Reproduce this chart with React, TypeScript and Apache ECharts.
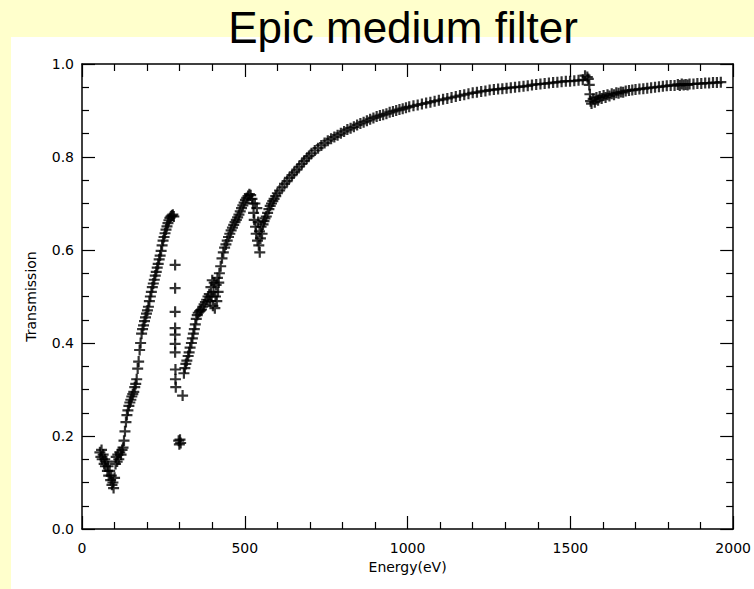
import { useEffect, useRef } from "react";
import * as echarts from "echarts";

// Axis ranges / ticks
const xMin = 0;
const xMax = 2000;
const xStep = 500;
const yMin = 0;
const yMax = 1.0;
const yStep = 0.2;

// Data: [Energy (eV), Transmission]
const lowCluster: [number, number][] = [
  [55, 0.165], [58, 0.155], [60, 0.17], [62, 0.15], [65, 0.16], [68, 0.14], [70, 0.15],
  [72, 0.135], [75, 0.145], [78, 0.125], [80, 0.135], [82, 0.115], [85, 0.125], [88, 0.105],
  [90, 0.115], [92, 0.095], [95, 0.1], [97, 0.088], [100, 0.11], [103, 0.14], [105, 0.155],
  [108, 0.145], [110, 0.16], [113, 0.15], [116, 0.165], [120, 0.16], [123, 0.17],
];

const carbonRise: [number, number][] = [
  [126, 0.175], [129, 0.19], [132, 0.21], [135, 0.23], [138, 0.245], [141, 0.255], [144, 0.265],
  [147, 0.272], [150, 0.278], [153, 0.285], [156, 0.29], [159, 0.295], [162, 0.305], [165, 0.312],
  [168, 0.322], [171, 0.345], [174, 0.36], [177, 0.385], [180, 0.4], [183, 0.42], [186, 0.43],
  [189, 0.438], [192, 0.447], [195, 0.455], [198, 0.463], [201, 0.47], [204, 0.478], [207, 0.49],
  [210, 0.5], [213, 0.51], [216, 0.52], [219, 0.528], [222, 0.536], [225, 0.545], [228, 0.553],
  [231, 0.562], [234, 0.57], [237, 0.58], [240, 0.588], [243, 0.598], [246, 0.61], [249, 0.62],
  [252, 0.628], [255, 0.636], [258, 0.644], [261, 0.651], [264, 0.658], [267, 0.664], [270, 0.669],
  [273, 0.672], [276, 0.674], [279, 0.676], [282, 0.672],
];

const carbonEdge: [number, number][] = [
  [286, 0.568], [286, 0.518], [286, 0.467], [286, 0.432], [286, 0.418], [286, 0.398], [286, 0.38],
  [287, 0.343], [287, 0.322], [288, 0.305], [309, 0.287],
  [297, 0.19], [299, 0.182], [301, 0.192], [303, 0.185],
];

const nitrogenOxygen: [number, number][] = [
  [313, 0.335], [316, 0.346], [319, 0.355], [322, 0.362], [326, 0.372], [329, 0.38], [332, 0.39],
  [336, 0.4], [339, 0.41], [342, 0.42], [345, 0.43], [348, 0.44], [351, 0.452], [354, 0.46],
  [357, 0.465], [361, 0.468], [364, 0.47], [367, 0.472], [371, 0.478], [375, 0.483], [379, 0.488],
  [383, 0.493], [387, 0.5], [391, 0.505],
  [394, 0.49], [396, 0.52], [398, 0.5], [400, 0.535], [402, 0.48], [404, 0.51], [406, 0.53],
  [408, 0.475], [410, 0.5], [412, 0.525], [414, 0.49], [416, 0.54], [418, 0.51], [420, 0.53],
  [422, 0.55], [426, 0.565], [430, 0.582], [434, 0.595], [438, 0.605], [442, 0.612], [446, 0.62],
  [450, 0.628], [454, 0.635], [458, 0.642], [462, 0.648], [466, 0.654], [470, 0.66], [474, 0.665],
  [478, 0.67], [482, 0.676], [486, 0.683], [490, 0.69], [494, 0.696], [498, 0.702], [502, 0.708],
  [506, 0.712], [510, 0.716], [514, 0.72], [518, 0.718], [522, 0.71],
  [525, 0.7], [527, 0.68], [529, 0.665], [531, 0.7], [533, 0.65], [535, 0.635], [537, 0.69],
  [539, 0.62], [541, 0.66], [543, 0.61], [545, 0.64], [546, 0.595], [548, 0.625], [550, 0.65],
  [553, 0.635], [556, 0.655], [559, 0.662], [562, 0.668], [566, 0.672], [570, 0.68], [574, 0.688],
  [578, 0.695], [582, 0.7], [586, 0.705], [590, 0.71], [595, 0.716], [600, 0.722], [607, 0.728],
  [615, 0.735], [622, 0.742], [630, 0.748], [637, 0.755], [645, 0.761], [652, 0.767], [660, 0.773],
  [667, 0.779], [675, 0.785], [682, 0.791], [690, 0.797], [697, 0.802],
];

const smoothRise: [number, number][] = [
  [705, 0.808], [715, 0.814], [725, 0.819], [735, 0.825], [745, 0.83], [755, 0.835], [765, 0.839],
  [775, 0.843], [785, 0.847], [795, 0.851], [805, 0.855], [815, 0.859], [825, 0.862], [835, 0.865],
  [845, 0.869], [855, 0.872], [865, 0.875], [875, 0.878], [885, 0.881], [895, 0.884], [905, 0.887],
  [915, 0.889], [925, 0.891], [935, 0.893], [945, 0.896], [955, 0.898], [965, 0.9], [975, 0.902],
  [985, 0.904], [995, 0.906], [1005, 0.908], [1018, 0.91], [1031, 0.912], [1044, 0.914],
  [1057, 0.916], [1070, 0.918], [1083, 0.92], [1096, 0.922], [1109, 0.924], [1122, 0.926],
  [1135, 0.928], [1148, 0.93], [1161, 0.932], [1174, 0.934], [1187, 0.936], [1200, 0.938],
  [1213, 0.939], [1226, 0.941], [1239, 0.942], [1252, 0.944], [1265, 0.945], [1278, 0.946],
  [1291, 0.947], [1304, 0.948], [1317, 0.949], [1330, 0.95], [1343, 0.951], [1356, 0.952],
  [1369, 0.953], [1382, 0.955], [1395, 0.956], [1408, 0.957], [1421, 0.958], [1434, 0.959],
  [1447, 0.96], [1460, 0.961], [1473, 0.962], [1486, 0.963], [1499, 0.963], [1512, 0.964],
  [1525, 0.965], [1538, 0.966], [1545, 0.975], [1552, 0.972], [1555, 0.968],
];

const aluminiumEdge: [number, number][] = [
  [1558, 0.955], [1560, 0.935], [1562, 0.92], [1565, 0.915], [1570, 0.925], [1575, 0.918],
  [1580, 0.928], [1585, 0.922], [1590, 0.93], [1596, 0.926], [1602, 0.932], [1608, 0.928],
  [1614, 0.934], [1620, 0.931], [1627, 0.936], [1634, 0.934], [1641, 0.938], [1648, 0.937],
  [1655, 0.94], [1662, 0.939], [1670, 0.942], [1680, 0.943], [1690, 0.944], [1700, 0.945],
  [1712, 0.946], [1724, 0.947], [1736, 0.948], [1748, 0.949], [1760, 0.95], [1772, 0.951],
  [1784, 0.952], [1796, 0.953], [1808, 0.954], [1820, 0.954], [1830, 0.956], [1836, 0.954],
  [1842, 0.957], [1848, 0.955], [1854, 0.956], [1860, 0.955], [1866, 0.957], [1878, 0.957],
  [1890, 0.958], [1902, 0.958], [1914, 0.959], [1926, 0.959], [1938, 0.96], [1950, 0.96],
  [1962, 0.961],
];

const PLUS = "path://M4,0H6V4H10V6H6V10H4V6H0V4H4Z";

export default function App() {
  const ref = useRef<HTMLDivElement>(null);

  useEffect(() => {
    document.body.style.margin = "0";
    const chart = echarts.init(ref.current!, null, { renderer: "svg" });
    const data = [
      ...lowCluster,
      ...carbonRise,
      ...carbonEdge,
      ...nitrogenOxygen,
      ...smoothRise,
      ...aluminiumEdge,
    ];

    const lineStyle = { color: "#000", width: 1.5 };
    const tickStyle = { color: "#000", width: 1.2 };
    const labelStyle = { fontSize: 14, fontFamily: "DejaVu Sans", color: "#000" };
    const nameStyle = { fontSize: 14, fontFamily: "DejaVu Sans", color: "#000" };

    const xBase = {
      type: "value" as const,
      min: xMin,
      max: xMax,
      interval: xStep,
      axisLine: { show: true, onZero: false, lineStyle },
      axisTick: { show: true, inside: true, length: 13, lineStyle: tickStyle },
      minorTick: { show: true, splitNumber: 5, length: 7, lineStyle: tickStyle },
      splitLine: { show: false },
    };
    const yBase = {
      type: "value" as const,
      min: yMin,
      max: yMax,
      interval: yStep,
      axisLine: { show: true, onZero: false, lineStyle },
      axisTick: { show: true, inside: true, length: 13, lineStyle: tickStyle },
      minorTick: { show: true, splitNumber: 4, length: 7, lineStyle: tickStyle },
      splitLine: { show: false },
    };

    chart.setOption({
      animation: false,
      backgroundColor: "#FFFFCC",
      title: {
        text: "Epic medium filter",
        left: 398,
        top: 0,
        textAlign: "center",
        textStyle: {
          fontSize: 44,
          fontWeight: "normal",
          fontFamily: "Liberation Sans",
          color: "#000",
        },
      },
      graphic: [
        {
          type: "rect",
          z: -100,
          silent: true,
          shape: { x: 11, y: 37, width: 743, height: 552 },
          style: { fill: "#FFFFFF" },
        },
      ],
      grid: { left: 82, top: 64, width: 652, height: 465, containLabel: false },
      xAxis: [
        {
          ...xBase,
          position: "bottom",
          axisLabel: { ...labelStyle, margin: 12, formatter: (v: number) => String(v) },
          name: "Energy(eV)",
          nameLocation: "middle",
          nameGap: 30,
          nameTextStyle: nameStyle,
        },
        { ...xBase, position: "top", axisLabel: { show: false } },
      ],
      yAxis: [
        {
          ...yBase,
          position: "left",
          axisLabel: {
            ...labelStyle,
            margin: 8,
            formatter: (v: number) => v.toFixed(1),
          },
          name: "Transmission",
          nameLocation: "middle",
          nameGap: 44,
          nameTextStyle: nameStyle,
        },
        { ...yBase, position: "right", axisLabel: { show: false } },
      ],
      series: [
        {
          type: "scatter",
          xAxisIndex: 0,
          yAxisIndex: 0,
          data,
          symbol: PLUS,
          symbolSize: 11,
          itemStyle: { color: "#000" },
        },
      ],
    });

    return () => chart.dispose();
  }, []);

  return <div ref={ref} style={{ width: 754, height: 589 }} />;
}
